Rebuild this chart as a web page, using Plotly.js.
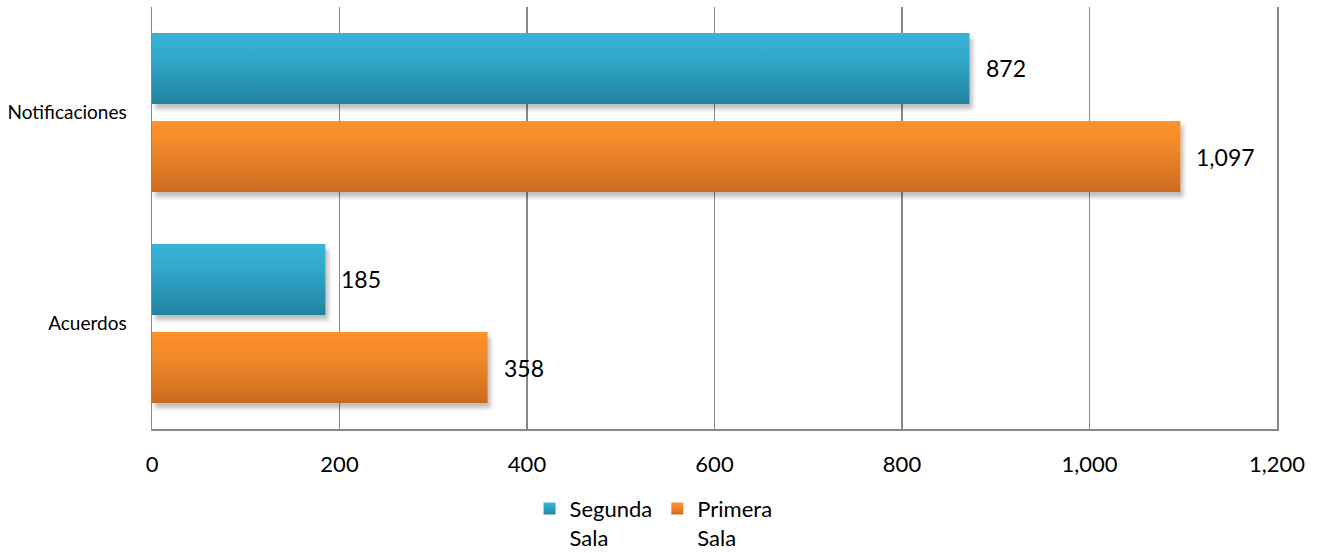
<!DOCTYPE html>
<html><head><meta charset="utf-8">
<script src="https://cdn.plot.ly/plotly-3.0.1.min.js"></script>
<style>html,body{margin:0;padding:0;background:#fff;}#chart{width:1323px;height:553px;}</style>
</head><body><div id="chart"></div>
<script>
const categories = ['Acuerdos', 'Notificaciones'];
const seriesNames = ['Segunda<br>Sala', 'Primera<br>Sala'];
const segundaSala = [185, 872];
const primeraSala = [358, 1097];
const xTicks = [0, 200, 400, 600, 800, 1000, 1200];

const FONT = 'Lato, "Open Sans", sans-serif';
const tealMid = '#2E9CBD', orangeMid = '#E8832A';

const traces = [
  {type:'bar', orientation:'h', name: seriesNames[1], y: categories, x: primeraSala,
   marker:{color: orangeMid}, legendrank: 2, hoverinfo:'none'},
  {type:'bar', orientation:'h', name: seriesNames[0], y: categories, x: segundaSala,
   marker:{color: tealMid}, legendrank: 1, hoverinfo:'none'}
];

const fmt = v => v.toLocaleString('en-US');
const annotations = [];
categories.forEach((c, i) => {
  annotations.push({x: segundaSala[i], y: i + 0.21, text: fmt(segundaSala[i]), showarrow:false,
    xanchor:'left', xshift: 14, font:{family:FONT, size:23, color:'#000'}});
  annotations.push({x: primeraSala[i], y: i - 0.21, text: fmt(primeraSala[i]), showarrow:false,
    xanchor:'left', xshift: 14, font:{family:FONT, size:23, color:'#000'}});
});

const layout = {
  width: 1323, height: 553,
  margin: {l: 152, r: 46, t: 7, b: 124},
  paper_bgcolor: '#fff', plot_bgcolor: '#fff',
  barmode: 'group', bargap: 0.166, bargroupgap: 0.193,
  font: {family: FONT, color: '#000'},
  xaxis: {range: [0, 1200], tickvals: xTicks, tickformat: ',', showgrid: true,
    gridcolor: '#888', gridwidth: 1.5, zeroline: false, showline: true, linecolor: '#888', linewidth: 1.5,
    ticks: '', ticklabelstandoff: 15, tickfont: {size: 22, family: FONT, color:'#000'}, fixedrange: true},
  yaxis: {type: 'category', categoryorder: 'array', categoryarray: categories, range: [-0.5, 1.5],
    showgrid: false, zeroline: false, showline: true, mirror: true, linecolor: '#888', linewidth: 1.5,
    ticks: '', ticklabelstandoff: 20,
    tickfont: {size: 19, family: FONT, color:'#000'}, fixedrange: true},
  legend: {orientation: 'h', xref: 'container', x: 0.494, xanchor: 'center', yref: 'container', y: 0.118, yanchor: 'top',
    font: {size: 22, family: FONT, color:'#000'}, itemwidth: 30, valign: 'top', traceorder: 'normal'},
  annotations: annotations,
  showlegend: true
};

Plotly.newPlot('chart', traces, layout, {displayModeBar: false, staticPlot: true}).then(gd => {
  const svg = gd.querySelector('svg.main-svg');
  const ns = 'http://www.w3.org/2000/svg';
  const defs = document.createElementNS(ns, 'defs');
  defs.innerHTML =
    '<linearGradient id="gOrange" x1="0" y1="0" x2="0" y2="1">' +
      '<stop offset="0" stop-color="#FF922C"/><stop offset="0.35" stop-color="#F2892A"/><stop offset="1" stop-color="#CC6A1F"/></linearGradient>' +
    '<linearGradient id="gTeal" x1="0" y1="0" x2="0" y2="1">' +
      '<stop offset="0" stop-color="#38B4D8"/><stop offset="0.35" stop-color="#31A8CA"/><stop offset="1" stop-color="#22839F"/></linearGradient>' +
    '<filter id="shadow" x="-5%" y="-20%" width="110%" height="150%">' +
      '<feDropShadow dx="3" dy="5" stdDeviation="2" flood-color="#000" flood-opacity="0.25"/></filter>';
  svg.insertBefore(defs, svg.firstChild);
  gd.querySelectorAll('.barlayer .trace').forEach((t, i) => {
    const g = i === 0 ? 'url(#gOrange)' : 'url(#gTeal)';
    t.querySelectorAll('path').forEach(p => { p.style.fill = g; p.setAttribute('filter', 'url(#shadow)'); });
  });
  gd.querySelectorAll('.legend .traces').forEach(t => {
    const g = t.textContent.indexOf('Primera') >= 0 ? 'url(#gOrange)' : 'url(#gTeal)';
    t.querySelectorAll('.legendpoints path').forEach(p => { p.style.fill = g; });
  });
});
</script>
</body></html>
